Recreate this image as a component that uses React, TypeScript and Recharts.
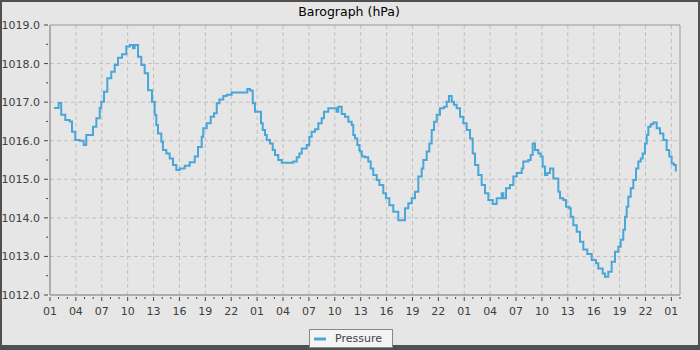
import React from 'react';
import { LineChart, Line, XAxis, YAxis, CartesianGrid, Legend, ReferenceArea } from 'recharts';

// hours since 01:00 on the first day
const hours = [
  0.46, 1.0, 1.3, 1.77, 2.28, 2.55, 2.93, 3.44, 3.9, 4.2, 4.6, 4.98, 5.37, 5.76, 5.94, 6.26, 6.64, 7.1, 7.5, 7.88,
  8.34, 8.84, 9.24, 9.62, 9.81, 10.2, 10.58, 10.97, 11.36, 11.82, 12.13, 12.32, 12.51, 12.9, 13.09, 13.48, 13.87,
  14.25, 14.64, 15.03, 15.61, 16.19, 16.77, 17.15,
  17.58, 17.76, 18.16, 18.62, 19.0, 19.32, 19.62, 20.08, 20.48, 21.05, 22.6, 22.86, 23.17, 23.49, 23.75, 24.25,
  24.45, 24.65, 24.91, 25.11, 25.49, 25.81, 26.07, 26.45, 26.85, 27.61, 28.19, 28.59, 28.89, 29.17, 29.75, 30.05,
  30.32, 30.71, 31.09, 31.48, 31.75, 32.25, 32.83, 33.22, 33.41, 33.8, 34.18, 34.57, 34.96, 35.14, 35.34, 35.61,
  35.84,
  35.92, 36.12, 36.5, 36.88, 37.16, 37.46, 37.86, 38.16, 38.62, 38.93, 39.32, 39.78, 40.36, 40.87, 41.14, 41.52,
  41.91, 42.29, 42.68, 43.07, 43.26, 43.65, 43.95, 44.23, 44.5, 44.81, 45.19, 45.65, 45.97, 46.23, 46.55, 46.81,
  47.12, 47.51, 47.89, 48.28, 48.67, 48.98, 49.25, 49.63, 50.02, 50.41, 50.79, 51.3, 51.76, 52.34, 52.53, 52.84,
  53.3, 53.69, 54.08,
  54.66, 54.84, 55.42, 55.7, 55.93, 56.2, 56.58, 56.86, 57.09, 57.36, 57.62, 57.94, 58.13, 58.32, 58.63, 58.9,
  59.1, 59.48, 59.79, 60.17, 60.34, 60.64, 61.03, 61.41, 61.8, 62.26, 62.77, 63.27, 63.53, 64.04, 64.31, 64.69,
  65.08, 65.47, 65.85, 66.13, 66.43, 66.63, 66.82, 67.01, 67.29, 67.59, 67.9, 68.17, 68.45, 68.68, 68.94, 69.14,
  69.33, 69.61, 69.91, 70.3, 70.68, 71.07, 71.45, 71.75, 72.03, 72.29, 72.52,
];

const pressure = [
  1016.85, 1016.98, 1016.67, 1016.54, 1016.5, 1016.23, 1016.02, 1016.0, 1015.89, 1016.15, 1016.15, 1016.36,
  1016.58, 1016.85, 1017.01, 1017.27, 1017.62, 1017.79, 1017.96, 1018.15, 1018.24, 1018.44, 1018.48, 1018.4,
  1018.48, 1018.18, 1017.96, 1017.75, 1017.31, 1017.01, 1016.67, 1016.41, 1016.19, 1015.97, 1015.76, 1015.67,
  1015.54, 1015.37, 1015.24, 1015.28, 1015.35, 1015.44, 1015.59, 1015.84,
  1016.1, 1016.32, 1016.45, 1016.62, 1016.71, 1016.97, 1017.07, 1017.16, 1017.19, 1017.25, 1017.25, 1017.34,
  1017.3, 1016.97, 1016.75, 1016.75, 1016.45, 1016.28, 1016.15, 1016.02, 1015.93, 1015.76, 1015.63, 1015.5,
  1015.43, 1015.43, 1015.46, 1015.57, 1015.67, 1015.8, 1015.89, 1016.1, 1016.23, 1016.3, 1016.45, 1016.58,
  1016.75, 1016.84, 1016.84, 1016.75, 1016.88, 1016.69, 1016.62, 1016.49, 1016.41, 1016.15, 1016.06, 1015.89,
  1015.76,
  1015.72, 1015.59, 1015.57, 1015.46, 1015.28, 1015.11, 1014.98, 1014.85, 1014.64, 1014.51, 1014.33, 1014.16,
  1013.94, 1013.94, 1014.25, 1014.38, 1014.51, 1014.68, 1015.07, 1015.28, 1015.5, 1015.72, 1015.93, 1016.28,
  1016.49, 1016.67, 1016.84, 1016.88, 1017.01, 1017.16, 1017.01, 1016.93, 1016.84, 1016.62, 1016.45, 1016.28,
  1016.06, 1015.67, 1015.37, 1015.11, 1014.85, 1014.64, 1014.46, 1014.36, 1014.51, 1014.64, 1014.51, 1014.77,
  1014.85, 1015.07, 1015.16,
  1015.28, 1015.46, 1015.5, 1015.63, 1015.93, 1015.76, 1015.67, 1015.59, 1015.33, 1015.11, 1015.16, 1015.28,
  1015.28, 1015.02, 1015.02, 1014.68, 1014.51, 1014.46, 1014.29, 1014.25, 1014.03, 1013.81, 1013.64, 1013.38,
  1013.18, 1013.06, 1012.91, 1012.82, 1012.69, 1012.56, 1012.47, 1012.6, 1012.86, 1013.12, 1013.25, 1013.43,
  1013.69, 1014.03, 1014.29, 1014.55, 1014.77, 1014.98, 1015.28, 1015.46, 1015.54, 1015.67, 1015.93, 1016.15,
  1016.36, 1016.43, 1016.47, 1016.32, 1016.19, 1016.02, 1015.76, 1015.59, 1015.41, 1015.37, 1015.2,
];

const xLabelHours = [0, 3, 6, 9, 12, 15, 18, 21, 24, 27, 30, 33, 36, 39, 42, 45, 48, 51, 54, 57, 60, 63, 66, 69, 72];
const xTickLabels = [
  '01', '04', '07', '10', '13', '16', '19', '22',
  '01', '04', '07', '10', '13', '16', '19', '22',
  '01', '04', '07', '10', '13', '16', '19', '22',
  '01',
];
const xMinorHours = Array.from({ length: 74 }, (_, i) => i);

const yLabelValues = [1012, 1013, 1014, 1015, 1016, 1017, 1018, 1019];
const yMinorValues = [1012, 1012.5, 1013, 1013.5, 1014, 1014.5, 1015, 1015.5, 1016, 1016.5, 1017, 1017.5, 1018, 1018.5, 1019];

const data = hours.map((h, i) => ({ h, p: pressure[i] }));

const FONT = '"DejaVu Sans", sans-serif';

const HourTick = (props: any) => {
  const { x, y, payload } = props;
  const idx = xLabelHours.indexOf(payload.value);
  const major = idx >= 0;
  return (
    <g>
      <line x1={x} x2={x} y1={y} y2={y + (major ? 4 : 2)} stroke="#444" />
      {major && (
        <text x={x} y={y + 18} textAnchor="middle" fontSize={11} fontFamily={FONT} fill="#404040">
          {xTickLabels[idx]}
        </text>
      )}
    </g>
  );
};

const PressureTick = (props: any) => {
  const { x, y, payload } = props;
  const major = yLabelValues.includes(payload.value);
  return (
    <g>
      <line x1={x - (major ? 4 : 2)} x2={x} y1={y} y2={y} stroke="#444" />
      {major && (
        <text x={x - 8} y={y + 4} textAnchor="end" fontSize={11} fontFamily={FONT} fill="#404040">
          {payload.value.toFixed(1)}
        </text>
      )}
    </g>
  );
};

const LegendBox = (props: any) => {
  const { payload = [] } = props;
  return (
    <div
      style={{
        boxSizing: 'border-box',
        width: '100%',
        height: '100%',
        border: '1px solid #888',
        background: '#f4f4f4',
        display: 'flex',
        alignItems: 'center',
        paddingLeft: 4,
        fontFamily: FONT,
        fontSize: 11,
        color: '#404040',
      }}
    >
      {payload.map((entry: any) => (
        <span key={entry.value} style={{ display: 'flex', alignItems: 'center' }}>
          <svg width={12} height={4} style={{ marginRight: 9 }}>
            <line x1={0} x2={12} y1={2} y2={2} stroke={entry.color} strokeWidth={3} />
          </svg>
          <span>{entry.value}</span>
        </span>
      ))}
    </div>
  );
};

export default function App() {
  return (
    <div style={{ position: 'relative', width: 700, height: 350, background: '#505050' }}>
      <style>{'body{margin:0}'}</style>
      <div style={{ position: 'absolute', left: 2, top: 2, width: 696, height: 343, background: '#e6e6e6' }} />
      <div
        style={{
          position: 'absolute',
          left: 0,
          top: 4,
          width: 698,
          textAlign: 'center',
          fontFamily: FONT,
          fontSize: 12.5,
          lineHeight: '15px',
          color: '#000',
        }}
      >
        Barograph (hPa)
      </div>
      <div style={{ position: 'absolute', left: 0, top: 0 }}>
        <LineChart width={700} height={350} data={data} margin={{ top: 25, right: 20, bottom: 30, left: 0 }}>
          <CartesianGrid
            stroke="#c0c0c0"
            strokeDasharray="4 3"
            verticalValues={xLabelHours.slice(1)}
            horizontalValues={yLabelValues.slice(1, -1)}
          />
          <XAxis
            dataKey="h"
            type="number"
            domain={[0, 73]}
            ticks={xMinorHours}
            interval={0}
            tickSize={0}
            tickLine={false}
            tick={(p: any) => <HourTick {...p} />}
            axisLine={{ stroke: '#999' }}
            height={25}
            allowDataOverflow
          />
          <YAxis
            type="number"
            domain={[1012, 1019]}
            ticks={yMinorValues}
            interval={0}
            tickSize={0}
            tickLine={false}
            tick={(p: any) => <PressureTick {...p} />}
            axisLine={{ stroke: '#999' }}
            width={50}
            allowDataOverflow
          />
          <ReferenceArea x1={0} x2={73} y1={1012} y2={1019} fill="none" stroke="#999" />
          <Legend
            layout="vertical"
            align="center"
            verticalAlign="middle"
            content={(p: any) => <LegendBox {...p} />}
            wrapperStyle={{ position: 'absolute', left: 309, top: 329, width: 84, height: 19 }}
          />
          <Line
            name="Pressure"
            dataKey="p"
            type="stepAfter"
            stroke="#4aa6d8"
            strokeWidth={2}
            dot={false}
            isAnimationActive={false}
          />
        </LineChart>
      </div>
    </div>
  );
}
